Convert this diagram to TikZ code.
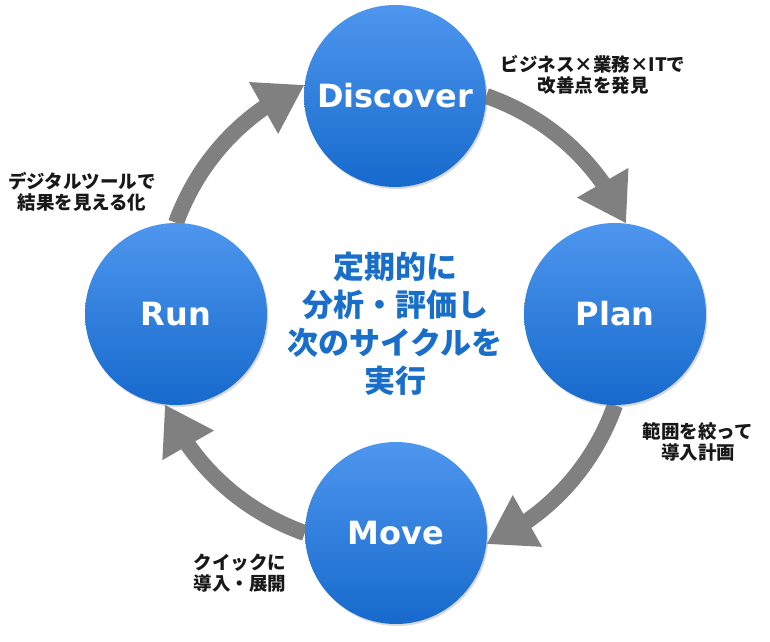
\documentclass[tikz,border=0pt]{standalone}
\usepackage{fontspec}
\usepackage{xcolor}
\usetikzlibrary{arrows.meta,bending,shadows,backgrounds}
\newfontfamily\jpfont{Noto Sans CJK JP}
\newfontfamily\phasefont{DejaVu Sans}
\definecolor{phasetop}{RGB}{78,150,238}
\definecolor{phasebottom}{RGB}{22,106,204}
\definecolor{cyclegray}{RGB}{128,128,128}
\definecolor{centerblue}{RGB}{24,110,200}
\definecolor{notegray}{RGB}{24,24,24}
\tikzset{
  phasecircle/.style={
    circle, minimum size=182pt, inner sep=0pt,
    top color=phasetop, bottom color=phasebottom, draw=none,
    drop shadow={shadow xshift=1.5pt, shadow yshift=-2pt, opacity=0.3},
    text=white, font=\phasefont\bfseries\fontsize{32}{38}\selectfont
  },
  cyclearrow/.style={
    -{Triangle[length=47pt, width=56pt, flex=1]},
    line width=16pt, draw=cyclegray
  },
  notelabel/.style={
    font=\jpfont\bfseries\fontsize{18.5}{21}\selectfont,
    text=notegray, align=center, inner sep=0pt
  },
  centertext/.style={
    font=\jpfont\bfseries\fontsize{31}{38}\selectfont,
    text=centerblue, align=center, inner sep=0pt
  },
}
\begin{document}
\begin{tikzpicture}[x=1pt, y=1pt]
    \useasboundingbox (0,0) rectangle (770,641);

    % the four phases
    \node[phasecircle] (discover) at (395,545) {Discover};
    \node[phasecircle] (plan) at (615,327) {Plan};
    \node[phasecircle] (move) at (396,108) {Move};
    \node[phasecircle] (run) at (176,327) {Run};

    % cycle arrows, behind the circles
    \begin{scope}[on background layer]
        \draw[cyclearrow] (discover.0) to[bend left=23, looseness=0.9] (plan.83);
        \draw[cyclearrow] (plan.270) to[bend left=23, looseness=0.9] (move.353);
        \draw[cyclearrow] (move.180) to[bend left=23, looseness=0.9] (run.263);
        \draw[cyclearrow] (run.90) to[bend left=23, looseness=0.9] (discover.173);
    \end{scope}

    % notes
    \node[notelabel] (notediscover) at (593,566) {ビジネス×業務×ITで\\改善点を発見};
    \node[notelabel] (noteplan) at (698,199) {範囲を絞って\\導入計画};
    \node[notelabel] (notemove) at (240,68) {クイックに\\導入・展開};
    \node[notelabel] (noterun) at (82,449) {デジタルツールで\\結果を見える化};

    % middle
    \node[centertext] (middle) at (395,317) {定期的に\\分析・評価し\\次のサイクルを\\実行};
\end{tikzpicture}
\end{document}
